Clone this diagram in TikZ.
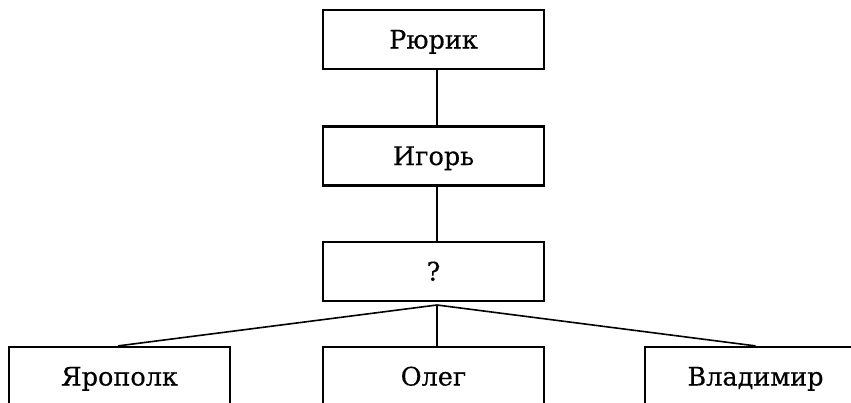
\documentclass[tikz,border=0pt]{standalone}
\usepackage{fontspec}
\setmainfont{DejaVu Serif}
\newfontfamily\nodefont{DejaVu Serif}[FakeBold=0.4]
\begin{document}
\begin{tikzpicture}[x=1pt,y=1pt,
  person/.style={draw=black, line width=2.2pt, rectangle, minimum width=221pt,
    minimum height=59pt, inner sep=0pt, font=\nodefont\fontsize{25.5}{29}\selectfont,
    text height=18pt, text depth=0pt},
  link/.style={draw=black, line width=1.6pt}]
\useasboundingbox (0,0) rectangle (851,-402);
\begin{scope}
\clip (0,0) rectangle (851,-402);
\node[person] (r) at (433.5,-39.5) {Рюрик};
\node[person] (i) at (433.5,-156) {Игорь};
\node[person] (q) at (433.5,-271.5) {?};
\node[person] (ya) at (119.5,-376.5) {Ярополк};
\node[person] (o) at (433.5,-376.5) {Олег};
\node[person] (v) at (755.5,-376.5) {Владимир};
\coordinate (J) at (437,-305);
\draw[link] (J |- r.south) -- (J |- i.north);
\draw[link] (J |- i.south) -- (J |- q.north);
\draw[link] (J) -- ([xshift=-1.5pt]ya.north);
\draw[link] (J) -- (J |- o.north);
\draw[link] (J) -- (v.north);
\end{scope}
\end{tikzpicture}
\end{document}
